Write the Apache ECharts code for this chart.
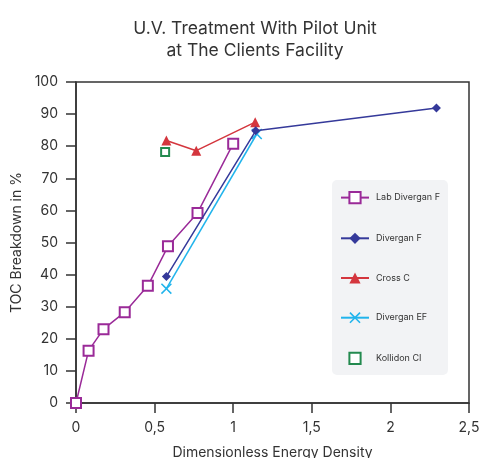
<!DOCTYPE html>
<html>
<head>
<meta charset="utf-8">
<script src="https://cdn.jsdelivr.net/npm/echarts@6/dist/echarts.min.js"></script>
<style>
  html, body { margin: 0; padding: 0; background: #fff; }
  #chart { width: 482px; height: 458px; }
</style>
</head>
<body>
<div id="chart"></div>
<script>
// data
var labDiverganF = [[0, 0], [0.08, 16.3], [0.175, 23], [0.31, 28.3], [0.457, 36.5], [0.585, 48.8], [0.773, 59.2], [1.0, 80.8]];
var diverganF = [[0.575, 39.4], [1.143, 84.8], [2.293, 91.9]];
var crossC = [[0.575, 81.8], [0.765, 78.6], [1.14, 87.5]];
var diverganEF = [[0.575, 35.6], [1.15, 83.8]];
var kollidonCI = [[0.567, 78.2]];

var seriesNames = ['Lab Divergan F', 'Divergan F', 'Cross C', 'Divergan EF', 'Kollidon CI'];

var font = 'Inter, "Noto Sans", sans-serif';
var xSymbol = 'path://M0,1 L1,0 L5,4 L9,0 L10,1 L6,5 L10,9 L9,10 L5,6 L1,10 L0,9 L4,5 Z';

var myChart = echarts.init(document.getElementById('chart'));

var option = {
  backgroundColor: '#fff',
  textStyle: { fontFamily: font },
  title: {
    text: 'U.V. Treatment With Pilot Unit\nat The Clients Facility',
    left: 250,
    top: 13,
    textAlign: 'center',
    textStyle: { fontSize: 17.5, fontWeight: 'normal', color: '#333', lineHeight: 22, fontFamily: font }
  },
  grid: {
    left: 76,
    right: 13,
    top: 82,
    bottom: 55,
    outerBoundsMode: 'none',
    containLabel: false,
    show: true,
    borderColor: '#333',
    borderWidth: 1.5,
    backgroundColor: 'transparent'
  },
  legend: {
    orient: 'vertical',
    left: 332,
    top: 180,
    padding: [11, 8, 10, 8],
    itemWidth: 28,
    itemHeight: 14,
    itemGap: 28.5,
    backgroundColor: '#f2f3f5',
    borderRadius: 5,
    textStyle: { fontSize: 9, color: '#333', fontFamily: font, padding: [0, 0, 0, 2] },
    data: seriesNames
  },
  xAxis: {
    type: 'value',
    min: 0,
    max: 2.5,
    interval: 0.5,
    name: 'Dimensionless Energy Density',
    nameLocation: 'middle',
    nameGap: 43,
    nameTextStyle: { fontSize: 14, color: '#333', fontFamily: font },
    axisLine: { lineStyle: { color: '#333', width: 1.5 } },
    axisTick: { show: true, length: 10, lineStyle: { color: '#333', width: 1.5 } },
    axisLabel: {
      fontSize: 14, color: '#333', margin: 18,
      formatter: function (v) { return String(v).replace('.', ','); }
    },
    splitLine: { show: false }
  },
  yAxis: {
    type: 'value',
    min: 0,
    max: 100,
    interval: 10,
    name: 'TOC Breakdown in %',
    nameLocation: 'middle',
    nameGap: 49,
    nameTextStyle: { fontSize: 14, color: '#333', fontFamily: font },
    axisLine: { show: true, lineStyle: { color: '#333', width: 1.5 } },
    axisTick: { show: true, length: 10, lineStyle: { color: '#333', width: 1.5 } },
    axisLabel: { fontSize: 14, color: '#333', margin: 18 },
    splitLine: { show: false }
  },
  series: [
    {
      name: seriesNames[0],
      type: 'line',
      data: labDiverganF,
      symbol: 'emptyRect',
      symbolSize: 10,
      lineStyle: { color: '#9a2a98', width: 1.5 },
      itemStyle: { color: '#9a2a98', borderColor: '#9a2a98', borderWidth: 2 },
      z: 3
    },
    {
      name: seriesNames[1],
      type: 'line',
      data: diverganF,
      symbol: 'diamond',
      symbolSize: 9,
      lineStyle: { color: '#35399a', width: 1.5 },
      itemStyle: { color: '#35399a' },
      z: 4
    },
    {
      name: seriesNames[2],
      type: 'line',
      data: crossC,
      symbol: 'triangle',
      symbolSize: 10,
      lineStyle: { color: '#d4363e', width: 1.5 },
      itemStyle: { color: '#d4363e' },
      z: 2
    },
    {
      name: seriesNames[3],
      type: 'line',
      data: diverganEF,
      symbol: xSymbol,
      symbolSize: 11,
      lineStyle: { color: '#21b4ec', width: 1.5 },
      itemStyle: { color: '#21b4ec' },
      z: 3
    },
    {
      name: seriesNames[4],
      type: 'line',
      data: kollidonCI,
      symbol: 'emptyRect',
      symbolSize: 8,
      lineStyle: { opacity: 0 },
      itemStyle: { color: '#238a4f', borderColor: '#238a4f', borderWidth: 1.5 },
      z: 3
    }
  ]
};

myChart.setOption(option);
</script>
</body>
</html>
